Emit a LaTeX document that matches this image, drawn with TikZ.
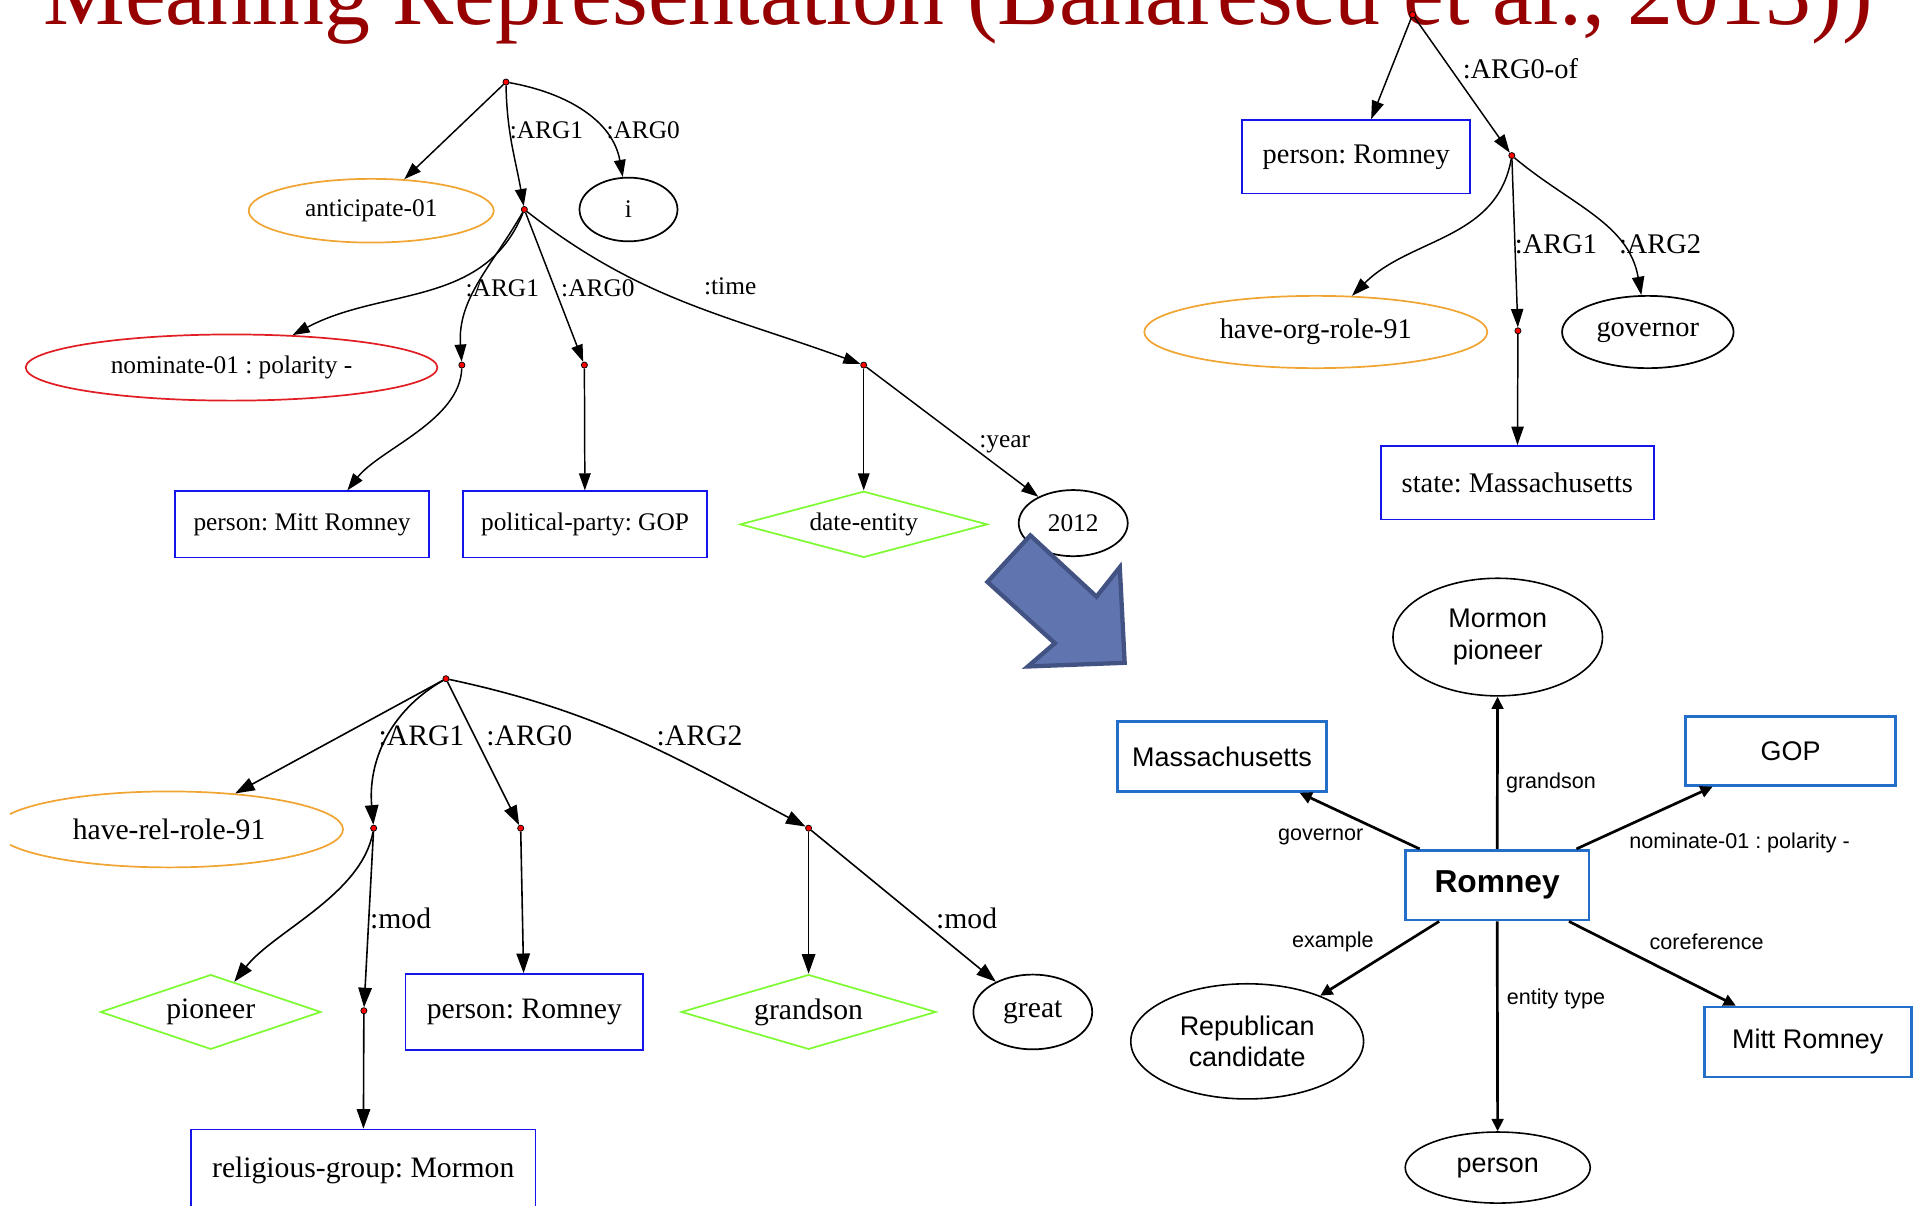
\documentclass[tikz,border=0pt]{standalone}
\usepackage{fontspec}
\setmainfont{Liberation Serif}
\setsansfont{Liberation Sans}
\usepackage{tikz}
\usetikzlibrary{arrows.meta,shapes.geometric,calc}
\frenchspacing
\definecolor{amrOrange}{RGB}{240,165,50}
\definecolor{amrRed}{RGB}{225,30,35}
\definecolor{amrBlue}{RGB}{20,20,235}
\definecolor{amrGreen}{RGB}{125,250,50}
\definecolor{netBlue}{RGB}{35,110,200}
\definecolor{titleRed}{RGB}{150,0,0}
\definecolor{bigFill}{RGB}{96,116,176}
\definecolor{bigLine}{RGB}{66,82,130}
\tikzset{
  tfont/.style={font=\fontsize{20.7}{24}\selectfont},
  rfont/.style={font=\fontsize{23.2}{27}\selectfont},
  bfont/.style={font=\fontsize{24.2}{28}\selectfont},
  sfont/.style={font=\sffamily\fontsize{22}{26}\selectfont},
  amr/.style={inner sep=0pt, line width=1.4pt, align=center},
  concept/.style={amr, ellipse, draw=amrOrange},
  negcon/.style={amr, ellipse, draw=amrRed},
  attr/.style={amr, ellipse, draw=black},
  const/.style={amr, rectangle, draw=amrBlue},
  ent/.style={amr, diamond, aspect=3.3, draw=amrGreen},
  dot/.style={circle, fill=red, draw=black, line width=0.6pt, inner sep=0pt, minimum size=5pt},
  lbl/.style={inner sep=0pt},
  tarr/.style={-{Triangle[length=14pt,width=9.5pt]}, line width=1.2pt},
  rarr/.style={-{Triangle[length=15pt,width=10pt]}, line width=1.2pt},
  barr/.style={-{Triangle[length=16pt,width=11pt]}, line width=1.3pt},
  nbox/.style={sfont, rectangle, draw=netBlue, line width=2.2pt, inner sep=0pt, align=center},
  nell/.style={sfont, ellipse, draw=black, line width=1.3pt, inner sep=0pt, align=center},
  narr/.style={-{Triangle[length=10pt,width=9.5pt]}, line width=2.2pt},
  nlbl/.style={font=\sffamily\fontsize{17.6}{20}\selectfont, inner sep=0pt},
  bigarrow/.style={fill=bigFill, draw=bigLine, line width=3.5pt, line join=miter}
}

\begin{document}
\begin{tikzpicture}[x=1pt, y=-1pt]
  \useasboundingbox (0,0) rectangle (1568,984);
  \node[font=\fontsize{75}{80}\selectfont, text=titleRed, inner sep=0pt, anchor=base] (title) at (782,20) {Meaning Representation (Banarescu et al., 2013))};

  \node[dot] (r1) at (413,67) {};
  \node[dot] (d1) at (428,171) {};
  \node[dot] (d2) at (377,298) {};
  \node[dot] (d3) at (477,298) {};
  \node[dot] (d4) at (705,298) {};
  \node[concept, tfont, minimum width=200pt, minimum height=52pt] (ant) at (303,172) {anticipate-01};
  \node[attr, tfont, minimum width=80pt, minimum height=52pt] (i) at (513,171) {i};
  \node[negcon, tfont, minimum width=336pt, minimum height=54pt] (nom) at (189,300) {nominate-01 : polarity -};
  \node[const, tfont, minimum width=207pt, minimum height=54pt] (mitt) at (246.5,428) {person: Mitt Romney};
  \node[const, tfont, minimum width=199pt, minimum height=54pt] (gop) at (477.5,428) {political-party: GOP};
  \node[ent, tfont, minimum width=202pt, minimum height=54pt] (date) at (705,428) {date-entity};
  \node[attr, tfont, minimum width=89pt, minimum height=54pt] (yr) at (876,427) {2012};
  \node[lbl, tfont] (l1) at (446,106) {:ARG1};
  \node[lbl, tfont] (l2) at (525,106) {:ARG0};
  \node[lbl, tfont] (l3) at (410,235) {:ARG1};
  \node[lbl, tfont] (l4) at (488,235) {:ARG0};
  \node[lbl, tfont] (l5) at (596,234) {:time};
  \node[lbl, tfont] (l6) at (820,363) {:year};
  \draw[tarr] (r1) -- (ant);
  \draw[tarr] (r1) to[out=-89,in=100] (d1);
  \draw[tarr] (r1) to[out=-10,in=100] (i);
  \draw[tarr] (d1) to[out=-112,in=28] (nom);
  \draw[tarr] (d1) to[out=-120,in=94] (d2);
  \draw[tarr] (d1) -- (d3);
  \draw[tarr] (d1) to[out=-38,in=160] (d4);
  \draw[tarr] (d2) to[out=-92,in=52,looseness=0.8] ([xshift=37pt]mitt.north);
  \draw[tarr] (d3) -- (gop);
  \draw[tarr] (d4) -- (date);
  \draw[tarr] (d4) -- (yr);

  \node[dot] (r2) at (1153,12) {};
  \node[dot] (d5) at (1234,127) {};
  \node[dot] (d6) at (1239,270) {};
  \node[const, rfont, minimum width=186pt, minimum height=60pt] (pr) at (1107,128) {person: Romney};
  \node[concept, rfont, minimum width=280pt, minimum height=59pt] (hor) at (1074,271) {have-org-role-91};
  \node[attr, rfont, minimum width=140pt, minimum height=59pt] (gov) at (1345,271) {governor};
  \node[const, rfont, minimum width=223pt, minimum height=60pt] (st) at (1238.5,394) {state: Massachusetts};
  \node[lbl, rfont] (l7) at (1241,56) {:ARG0-of};
  \node[lbl, rfont] (l8) at (1270,199) {:ARG1};
  \node[lbl, rfont] (l9) at (1355,199) {:ARG2};
  \draw[rarr] (r2) -- (pr);
  \draw[rarr] (r2) -- (d5);
  \draw[rarr] (d5) to[out=-100,in=45] (hor);
  \draw[rarr] (d5) -- (d6);
  \draw[rarr] (d5) to[out=-40,in=100] (gov);
  \draw[rarr] (d6) -- (st);

  \node[dot] (r3) at (364,554) {};
  \node[dot] (d7) at (305,676) {};
  \node[dot] (d8) at (425,676) {};
  \node[dot] (d9) at (660,676) {};
  \node[dot] (d10) at (297,825) {};
  \begin{scope}
    \clip (8,600) rectangle (300,740);
    \node[concept, bfont, minimum width=284pt, minimum height=62pt] (hrr) at (138,677) {have-rel-role-91};
  \end{scope}
  \node[ent, bfont, minimum width=180pt, minimum height=61pt] (pio) at (172,826) {pioneer};
  \node[const, bfont, minimum width=194pt, minimum height=62pt] (prb) at (428,826) {person: Romney};
  \node[ent, bfont, minimum width=208pt, minimum height=61pt] (gs) at (660,826) {grandson};
  \node[attr, bfont, minimum width=97pt, minimum height=61pt] (grt) at (843,826) {great};
  \node[const, bfont, minimum width=281pt, minimum height=66pt] (rgm) at (296.5,955) {religious-group: Mormon};
  \node[lbl, bfont] (l10) at (344,601) {:ARG1};
  \node[lbl, bfont] (l11) at (432,601) {:ARG0};
  \node[lbl, bfont] (l12) at (571,601) {:ARG2};
  \node[lbl, bfont] (l13) at (327,750) {:mod};
  \node[lbl, bfont] (l14) at (789,750) {:mod};
  \draw[barr] (r3) -- (hrr);
  \draw[barr] (r3) to[out=-150,in=95] (d7);
  \draw[barr] (r3) -- (d8);
  \draw[barr] (r3) to[out=-12,in=152] (d9);
  \draw[barr] (d7) to[out=-100,in=52,looseness=0.8] (pio);
  \draw[barr] (d7) -- (d10);
  \draw[barr] (d8) -- (prb);
  \draw[barr] (d9) -- (gs);
  \draw[barr] (d9) -- (grt);
  \draw[barr] (d10) -- (rgm);

  \draw[bigarrow] (841,437) -- (895,487) -- (914,463) -- (918,541) -- (839,544) -- (861,525) -- (806,475) -- cycle;

  \node[nbox, font=\sffamily\bfseries\fontsize{25.9}{30}\selectfont, minimum width=150pt, minimum height=57pt] (rom) at (1222,722.5) {Romney};
  \node[nell, minimum width=171pt, minimum height=96pt] (mp) at (1222.5,520) {Mormon\\pioneer};
  \node[nbox, minimum width=171pt, minimum height=57pt] (mass) at (997.5,617.5) {Massachusetts};
  \node[nbox, minimum width=171pt, minimum height=56pt] (gopr) at (1461.5,613) {GOP};
  \node[nell, minimum width=190pt, minimum height=94pt] (rc) at (1018,850) {Republican\\candidate};
  \node[nbox, minimum width=169pt, minimum height=57pt] (mr) at (1475.5,850.5) {Mitt Romney};
  \node[nell, minimum width=151pt, minimum height=58pt] (per) at (1222.5,953) {person};
  \node[nlbl] (n1) at (1266,639) {grandson};
  \node[nlbl] (n2) at (1078,683) {governor};
  \node[nlbl] (n3) at (1420,688) {nominate-01 : polarity -};
  \node[nlbl] (n4) at (1088,769) {example};
  \node[nlbl] (n5) at (1393,769) {coreference};
  \node[nlbl] (n6) at (1270,815) {entity type};
  \draw[narr] (rom) -- (mp);
  \draw[narr] (rom) -- (mass);
  \draw[narr] (rom) -- (gopr);
  \draw[narr] (rom) -- (rc);
  \draw[narr] (rom) -- (mr);
  \draw[narr] (rom) -- (per);
\end{tikzpicture}
\end{document}
